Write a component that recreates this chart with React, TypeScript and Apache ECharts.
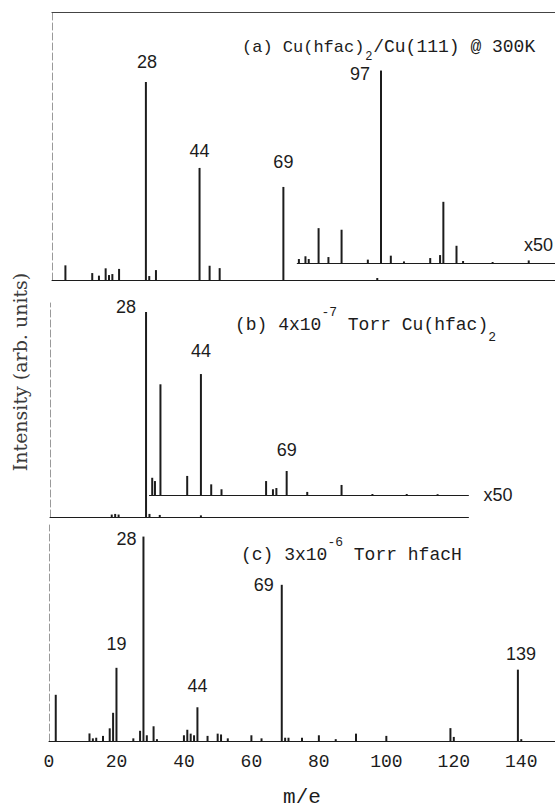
import React, { useEffect, useRef } from "react";
import * as echarts from "echarts";

// ---------- data (m/e, relative intensity) ----------
const xTicks = [0, 20, 40, 60, 80, 100, 120, 140];

// (a) Cu(hfac)2/Cu(111) @ 300K
const aMz = [4, 12, 14, 16, 17, 18, 20, 28, 29, 31, 44, 47, 50, 69, 97];
const aInt = [7.4, 3.5, 2.2, 5.9, 2.5, 3, 5.6, 100, 2, 5, 56.6, 7.2, 6, 47, 1];
const aX50Mz = [72, 74, 75, 78, 81, 85, 93, 97, 100, 104, 112, 115, 116, 120, 122, 131, 142];
const aX50Int = [2, 3.4, 2, 17.6, 3, 16.8, 1.7, 97.2, 3.7, 0.8, 2.5, 4, 30.9, 8.7, 1, 0.5, 1.3];

// (b) 4x10^-7 Torr Cu(hfac)2
const bMz = [18, 19, 20, 28, 29, 32, 44];
const bInt = [1.2, 1.5, 1.2, 100, 1.5, 1, 0.8];
const bX50Mz = [29.8, 30.6, 32.2, 40, 44, 47, 50, 63, 65, 66, 69, 75, 85, 94, 104, 113];
const bX50Int = [8.4, 6.8, 54, 9.3, 59, 5.2, 2.8, 6.8, 2.8, 3.4, 11.7, 1.5, 4.9, 0.5, 0.5, 0.4];

// (c) 3x10^-6 Torr hfacH
const cMz = [2, 12, 13, 14, 16, 18, 19, 20, 25, 27, 28, 29, 31, 32, 40, 41, 42, 43, 44, 47, 50, 51, 53, 60, 63, 69, 70, 71, 75, 80, 85, 91, 100, 119, 120, 139, 140];
const cInt = [22.6, 3.7, 1.3, 1.6, 2.5, 6.2, 13.8, 35.8, 1.3, 5, 100, 2.8, 7.2, 0.9, 2.8, 5.5, 3.6, 2.8, 16.5, 2.5, 3.6, 3.2, 1.3, 2.8, 1.3, 76.4, 1.6, 1.6, 1.6, 2.8, 0.9, 3.6, 2.5, 6.3, 2, 34.9, 0.9];

// peak labels (which peak, which text)
const aLabelMz = [28, 44, 69];
const aLabelText = ["28", "44", "69"];
const aX50LabelMz = [97];
const aX50LabelText = ["97"];
const bLabelMz = [28];
const bLabelText = ["28"];
const bX50LabelMz = [44, 69];
const bX50LabelText = ["44", "69"];
const cLabelMz = [20, 28, 44, 69, 139];
const cLabelText = ["19", "28", "44", "69", "139"];

// ---------- styling / layout ----------
const INK = "#1c1c1c";
const SANS = "Liberation Sans";
const MONO = "Liberation Mono";
const labelOffsets: Record<string, number[]> = {
  "a28": [1, -6.5], "a44": [0, -2.5], "a69": [0, -10.5], "ax97": [-21, 17],
  "b28": [-20, 8.5], "bx44": [0, -9.5], "bx69": [0, -7.5],
  "c20": [0, -9.5], "c28": [-17, 16.5], "c44": [0, -7.5], "c69": [-18, 14.5], "c139": [3, -1.5],
};

function buildData(key: string, mz: number[], vals: number[], lMz: number[], lText: string[]) {
  return mz.map((m, i) => {
    const li = lMz.indexOf(m);
    if (li < 0) return [m, vals[i]];
    return {
      value: [m, vals[i]],
      label: {
        show: true,
        position: "top",
        distance: 5,
        formatter: lText[li],
        offset: labelOffsets[key + m],
        fontFamily: SANS,
        fontSize: 18,
        color: INK,
      },
    };
  });
}

export default function App() {
  const ref = useRef<HTMLDivElement>(null);
  useEffect(() => {
    const chart = echarts.init(ref.current!, null, { renderer: "svg" });
    const SA = 3.43, SB = 3.43, SC = 3.39;
    const CW = 10.8; // mono char width at 18px
    const dashed = { show: true, onZero: false, lineStyle: { color: "#9a9a9a", width: 1, type: [7, 3] as any } };
    const solid = { show: true, onZero: true, lineStyle: { color: INK, width: 1 } };
    const hiddenX = { axisTick: { show: false }, axisLabel: { show: false }, splitLine: { show: false } };

    const grids = [
      { left: 52, top: 12, width: 150 * SA, height: 268 },
      { left: 52 + 71.5 * SA, top: 65, width: (150 - 71.5) * SA, height: 198 },
      { left: 50, top: 303, width: 122 * SB, height: 214 },
      { left: 50 + 29 * SB, top: 290, width: 93 * SB, height: 205 },
      { left: 49, top: 525, width: 150 * SC, height: 224 },
    ];

    const mkText = (text: string, x: number, y: number, size: number, family: string, align = "left") => ({
      type: "text", x, y, silent: true,
      style: { text, fill: INK, fontSize: size, fontFamily: family, align, verticalAlign: "middle" },
    });

    const aSub = 242 + 12 * 10.2 + 0.8;
    const graphic: any[] = [
      // (a) title
      mkText("(a) Cu(hfac)", 242, 47, 17, MONO),
      mkText("2", aSub, 57, 12, MONO),
      mkText("/Cu(111) @ 300K", aSub + 8, 47, 18, MONO),
      // (b) title
      mkText("(b) 4x10", 235, 325, 18, MONO),
      mkText("-7", 235 + 8 * CW, 312, 13, MONO),
      mkText(" Torr Cu(hfac)", 235 + 8 * CW + 15.6, 325, 18, MONO),
      mkText("2", 235 + 22 * CW + 15.6, 337, 13, MONO),
      // (c) title
      mkText("(c) 3x10", 241, 555, 18, MONO),
      mkText("-6", 241 + 8 * CW, 542, 13, MONO),
      mkText(" Torr hfacH", 241 + 8 * CW + 15.6, 555, 18, MONO),
      // x50 of (a)
      mkText("x50", 553, 245, 18, SANS, "right"),
      // y label
      {
        type: "text", x: 20, y: 372, rotation: Math.PI / 2, silent: true,
        style: { text: "Intensity (arb. units)", fill: "#3a3a3a", fontSize: 19, fontFamily: "DejaVu Serif", align: "center", verticalAlign: "middle" },
      },
    ];

    const bar = (xi: number, data: any[]) => ({
      type: "bar", xAxisIndex: xi, yAxisIndex: xi, data, barWidth: 2,
      itemStyle: { color: INK }, silent: true,
    });

    const option: any = {
      animation: false,
      backgroundColor: "#fff",
      grid: grids,
      xAxis: [
        { type: "value", gridIndex: 0, min: 0, max: 150, axisLine: solid, ...hiddenX },
        { type: "value", gridIndex: 1, min: 71.5, max: 150, axisLine: solid, ...hiddenX },
        { type: "value", gridIndex: 2, min: 0, max: 122, axisLine: solid, ...hiddenX },
        {
          type: "value", gridIndex: 3, min: 29, max: 122, axisLine: solid, ...hiddenX,
          name: "x50", nameLocation: "end", nameGap: 15,
          nameTextStyle: { fontFamily: SANS, fontSize: 18, color: INK, align: "left", verticalAlign: "middle" },
        },
        {
          type: "value", gridIndex: 4, min: 0, max: 150, interval: 20, axisLine: solid,
          axisTick: { show: false }, splitLine: { show: false },
          axisLabel: {
            show: true, margin: 12, fontFamily: MONO, fontSize: 18, color: INK,
            showMaxLabel: false,
            formatter: (v: number) => (xTicks.includes(v) ? String(v) : ""),
          },
          name: "m/e", nameLocation: "middle", nameGap: 46,
          nameTextStyle: { fontFamily: MONO, fontSize: 21, color: INK },
        },
        {
          type: "value", gridIndex: 0, position: "top", min: 0, max: 150,
          axisLine: { show: true, onZero: false, lineStyle: { color: "#444", width: 1.2 } }, ...hiddenX,
        },
      ],
      yAxis: [
        { type: "value", gridIndex: 0, min: 0, max: 268 / 1.98, axisLine: dashed, axisTick: { show: false }, axisLabel: { show: false }, splitLine: { show: false } },
        { type: "value", gridIndex: 1, min: 0, max: 100, show: false },
        { type: "value", gridIndex: 2, min: 0, max: 214 / 2.05, axisLine: dashed, axisTick: { show: false }, axisLabel: { show: false }, splitLine: { show: false } },
        { type: "value", gridIndex: 3, min: 0, max: 100, show: false },
        { type: "value", gridIndex: 4, min: 0, max: 224 / 2.12, axisLine: dashed, axisTick: { show: false }, axisLabel: { show: false }, splitLine: { show: false } },
      ],
      series: [
        bar(0, buildData("a", aMz, aInt, aLabelMz, aLabelText)),
        bar(1, buildData("ax", aX50Mz, aX50Int, aX50LabelMz, aX50LabelText)),
        bar(2, buildData("b", bMz, bInt, bLabelMz, bLabelText)),
        bar(3, buildData("bx", bX50Mz, bX50Int, bX50LabelMz, bX50LabelText)),
        bar(4, buildData("c", cMz, cInt, cLabelMz, cLabelText)),
      ],
      graphic,
    };
    chart.setOption(option);
    return () => chart.dispose();
  }, []);
  return (
    <div
      ref={ref}
      style={{ position: "absolute", left: 0, top: 0, width: 555, height: 809, overflow: "hidden", background: "#fff" }}
    />
  );
}
